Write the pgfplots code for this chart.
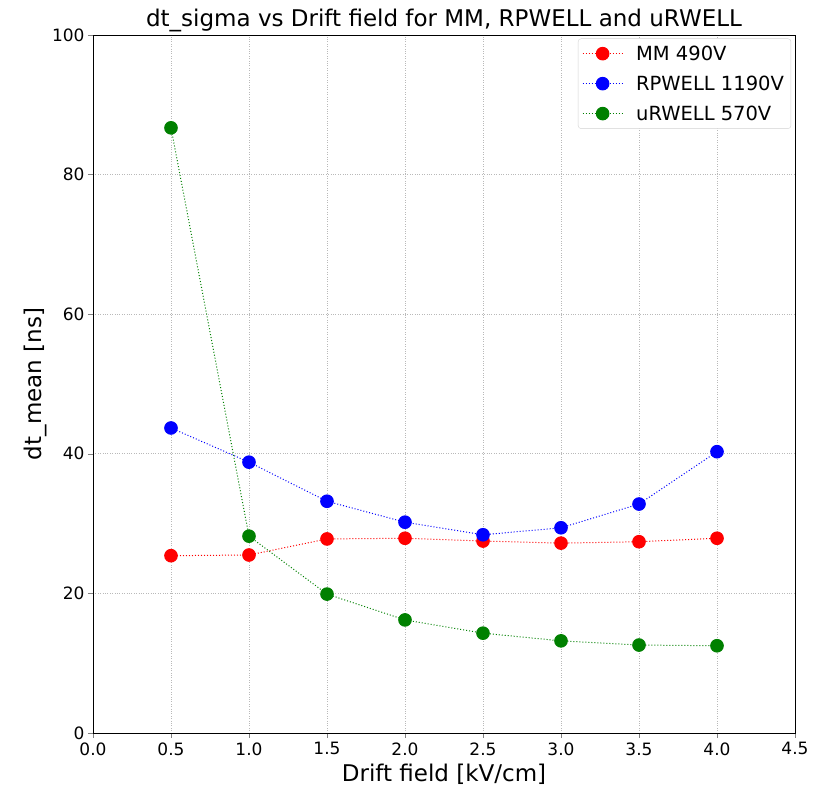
\documentclass[border=0pt]{standalone}
\usepackage{fontspec}
\setmainfont{DejaVu Sans}
\usepackage{pgfplots}
\pgfplotsset{compat=1.18}
\definecolor{mred}{RGB}{255,0,0}
\definecolor{mblue}{RGB}{0,0,255}
\definecolor{mgreen}{RGB}{0,128,0}
\begin{document}
\begin{tikzpicture}[x=1pt,y=1pt]
\begin{axis}[
  name=ax,
  at={(93pt,59pt)}, anchor=south west,
  scale only axis, width=702pt, height=698pt,
  xmin=0, xmax=4.5, ymin=0, ymax=100,
  xtick={0,0.5,...,4.5},
  xticklabels={0.0,0.5,1.0,1.5,2.0,2.5,3.0,3.5,4.0,4.5},
  ytick={0,20,40,60,80,100},
  tick align=outside, major tick length=5pt,
  xtick pos=bottom, ytick pos=left,
  /pgf/number format/assume math mode=true,
  tick label style={font=\fontsize{17}{19}\selectfont},
  xticklabel style={yshift=-1pt},
  grid=major,
  major grid style={gray!55, dotted, line width=0.6pt},
  title={dt\_sigma vs Drift field for MM, RPWELL and uRWELL},
  title style={font=\fontsize{23}{25}\selectfont, yshift=-6pt},
  xlabel={Drift field [kV/cm]},
  ylabel={dt\_mean [ns]},
  label style={font=\fontsize{23}{25}\selectfont},
  xlabel style={yshift=-2pt},
  ylabel style={yshift=-2pt},
  legend style={font=\fontsize{19.5}{22}\selectfont, draw=gray!35, rounded corners=3pt, inner xsep=4pt, inner ysep=5pt, at={(0.9945,0.995)}, anchor=north east, row sep=10pt, nodes={inner xsep=3pt}},
  legend image code/.code={\draw[mark repeat=2,mark phase=2,#1] plot coordinates {(0pt,0pt) (20pt,0pt) (40pt,0pt)}; \path (50pt,0pt);},
  legend cell align=left,
  axis line style={line width=0.8pt},
]
\addplot[mred, dotted, line width=1pt, mark=*, mark size=6.3pt, mark options={solid}] coordinates {
(0.5,25.4) (1.0,25.5) (1.5,27.8) (2.0,27.9) (2.5,27.5) (3.0,27.2) (3.5,27.4) (4.0,27.9)};
\addlegendentry{MM 490V}
\addplot[mblue, dotted, line width=1pt, mark=*, mark size=6.3pt, mark options={solid}] coordinates {
(0.5,43.7) (1.0,38.8) (1.5,33.2) (2.0,30.2) (2.5,28.4) (3.0,29.4) (3.5,32.8) (4.0,40.3)};
\addlegendentry{RPWELL 1190V}
\addplot[mgreen, dotted, line width=1pt, mark=*, mark size=6.3pt, mark options={solid}] coordinates {
(0.5,86.7) (1.0,28.2) (1.5,19.9) (2.0,16.2) (2.5,14.3) (3.0,13.2) (3.5,12.6) (4.0,12.5)};
\addlegendentry{uRWELL 570V}
\end{axis}
\path (0,0) rectangle (831,792);
\end{tikzpicture}
\end{document}
